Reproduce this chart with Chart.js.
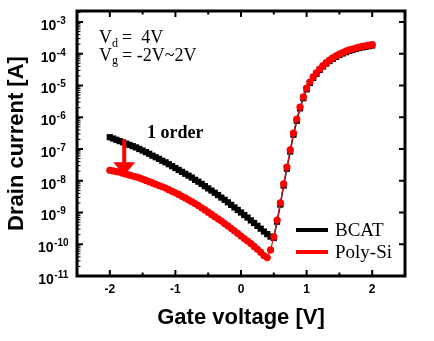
<!DOCTYPE html>
<html>
<head>
<meta charset="utf-8">
<script src="https://cdn.jsdelivr.net/npm/chart.js@4.4.1/dist/chart.umd.min.js"></script>
<style>
  html, body { margin: 0; padding: 0; background: #fff; }
  #wrap { width: 434px; height: 341px; }
</style>
</head>
<body>
<div id="wrap"><canvas id="idChart" width="434" height="341"></canvas></div>
<script>
// gate voltage sweep (V)
const gateVoltage = [
  -2, -1.95, -1.9, -1.85, -1.8, -1.75, -1.7, -1.65, -1.6, -1.55,
  -1.5, -1.45, -1.4, -1.35, -1.3, -1.25, -1.2, -1.15, -1.1, -1.05,
  -1, -0.95, -0.9, -0.85, -0.8, -0.75, -0.7, -0.65, -0.6, -0.55,
  -0.5, -0.45, -0.4, -0.35, -0.3, -0.25, -0.2, -0.15, -0.1, -0.05,
  0, 0.05, 0.1, 0.15, 0.2, 0.25, 0.3, 0.35, 0.4, 0.45,
  0.5, 0.55, 0.6, 0.65, 0.7, 0.75, 0.8, 0.85, 0.9, 0.95,
  1, 1.05, 1.1, 1.15, 1.2, 1.25, 1.3, 1.35, 1.4, 1.45,
  1.5, 1.55, 1.6, 1.65, 1.7, 1.75, 1.8, 1.85, 1.9, 1.95,
  2
];

// drain current, stored as log10(A)
const bcatLogId = [
  -6.63, -6.67, -6.71, -6.75, -6.79, -6.83, -6.87, -6.91, -6.95, -7.00,
  -7.05, -7.10, -7.15, -7.21, -7.26, -7.31, -7.37, -7.42, -7.48, -7.54,
  -7.60, -7.66, -7.72, -7.78, -7.84, -7.90, -7.97, -8.03, -8.10, -8.17,
  -8.24, -8.31, -8.38, -8.45, -8.53, -8.60, -8.68, -8.76, -8.84, -8.92,
  -9.00, -9.08, -9.16, -9.25, -9.33, -9.42, -9.51, -9.60, -9.68, -9.76,
  -9.80, -9.29, -8.75, -8.15, -7.62, -7.08, -6.55, -6.11, -5.72, -5.40,
  -5.12, -4.92, -4.76, -4.63, -4.51, -4.40, -4.31, -4.23, -4.16, -4.10,
  -4.04, -3.99, -3.95, -3.91, -3.88, -3.85, -3.82, -3.80, -3.78, -3.76,
  -3.74
];

const polySiLogId = [
  -7.67, -7.69, -7.71, -7.73, -7.76, -7.79, -7.82, -7.85, -7.88, -7.91,
  -7.95, -7.99, -8.03, -8.07, -8.11, -8.15, -8.19, -8.23, -8.28, -8.33,
  -8.38, -8.43, -8.49, -8.54, -8.60, -8.66, -8.72, -8.78, -8.85, -8.92,
  -8.99, -9.06, -9.13, -9.20, -9.27, -9.35, -9.42, -9.50, -9.58, -9.66,
  -9.74, -9.82, -9.90, -9.98, -10.07, -10.16, -10.25, -10.36, -10.42, -10.18,
  -9.77, -9.24, -8.70, -8.10, -7.57, -7.03, -6.50, -6.06, -5.68, -5.36,
  -5.08, -4.89, -4.73, -4.60, -4.48, -4.37, -4.28, -4.20, -4.13, -4.07,
  -4.01, -3.96, -3.92, -3.88, -3.85, -3.82, -3.79, -3.77, -3.75, -3.73,
  -3.71
];

const xTicks = [-2, -1, 0, 1, 2];
const xTickLabels = ['-2', '-1', '0', '1', '2'];
const xMinorTicks = [-1.5, -0.5, 0.5, 1.5];
const yTickExponents = [-11, -10, -9, -8, -7, -6, -5, -4, -3];

// "1 order" arrow, in data units
const arrowVg = -1.78;
const arrowFrom = 2.0e-7;
const arrowTo = 1.5e-8;

const SANS = '"Liberation Sans", Arial, sans-serif';
const SERIF = '"Liberation Serif", "Times New Roman", serif';

function toPoints(logs) {
  return gateVoltage.map((v, i) => ({ x: v, y: Math.pow(10, logs[i]) }));
}

// frame, inward ticks, decade labels, legend and notes
const decorations = {
  id: 'decorations',
  afterDatasetsDraw(chart) {
    const ctx = chart.ctx;
    const a = chart.chartArea;
    const xs = chart.scales.x;
    const ys = chart.scales.y;
    ctx.save();

    // ticks
    ctx.strokeStyle = '#000';
    ctx.lineWidth = 2;
    ctx.beginPath();
    xTicks.forEach(v => {
      const px = xs.getPixelForValue(v);
      ctx.moveTo(px, a.bottom); ctx.lineTo(px, a.bottom - 6);
      ctx.moveTo(px, a.top); ctx.lineTo(px, a.top + 6);
    });
    xMinorTicks.forEach(v => {
      const px = xs.getPixelForValue(v);
      ctx.moveTo(px, a.bottom); ctx.lineTo(px, a.bottom - 3.5);
      ctx.moveTo(px, a.top); ctx.lineTo(px, a.top + 3.5);
    });
    yTickExponents.forEach(e => {
      const py = ys.getPixelForValue(Math.pow(10, e));
      ctx.moveTo(a.left, py); ctx.lineTo(a.left + 6, py);
      ctx.moveTo(a.right, py); ctx.lineTo(a.right - 6, py);
    });
    ctx.stroke();

    ctx.lineWidth = 1;
    ctx.beginPath();
    yTickExponents.slice(0, -1).forEach(e => {
      for (let m = 2; m <= 9; m++) {
        const py = ys.getPixelForValue(m * Math.pow(10, e));
        ctx.moveTo(a.left, py); ctx.lineTo(a.left + 3.5, py);
      }
    });
    for (let m = 2; m * 1e-3 < ys.max; m++) {
      const py = ys.getPixelForValue(m * 1e-3);
      ctx.moveTo(a.left, py); ctx.lineTo(a.left + 3.5, py);
    }
    ctx.stroke();

    // frame
    ctx.lineWidth = 3;
    ctx.strokeRect(a.left, a.top, a.right - a.left, a.bottom - a.top);

    // decade labels 10^n
    ctx.fillStyle = '#000';
    ctx.textBaseline = 'alphabetic';
    ctx.textAlign = 'left';
    yTickExponents.forEach(e => {
      const py = ys.getPixelForValue(Math.pow(10, e));
      const sup = String(e);
      ctx.font = 'bold 14px ' + SANS;
      const wb = ctx.measureText('10').width;
      ctx.font = 'bold 10px ' + SANS;
      const ws = ctx.measureText(sup).width;
      const x0 = a.left - 24 - (wb + ws) / 2;
      ctx.font = 'bold 14px ' + SANS;
      ctx.fillText('10', x0, py + 8);
      ctx.font = 'bold 10px ' + SANS;
      ctx.fillText(sup, x0 + wb + 0.5, py + 2);
    });

    // legend
    chart.data.datasets.forEach((ds, i) => {
      const ly = a.bottom - 46 + i * 22;
      ctx.strokeStyle = ds.legendColor;
      ctx.lineWidth = 4;
      ctx.beginPath();
      ctx.moveTo(a.right - 109, ly);
      ctx.lineTo(a.right - 77, ly);
      ctx.stroke();
      ctx.fillStyle = '#000';
      ctx.font = '19px ' + SERIF;
      ctx.textBaseline = 'middle';
      ctx.fillText(ds.label, a.right - 70, ly + 1);
    });

    // bias conditions
    ctx.textBaseline = 'alphabetic';
    const tx = a.left + 22;
    ctx.font = '18px ' + SERIF;
    ctx.fillText('V', tx, a.top + 32);
    ctx.fillText('V', tx, a.top + 50);
    ctx.font = '12px ' + SERIF;
    ctx.fillText('d', tx + 13, a.top + 36);
    ctx.fillText('g', tx + 13, a.top + 53);
    ctx.font = '18px ' + SERIF;
    ctx.fillText('=  4V', tx + 23, a.top + 32);
    ctx.fillText('= -2V~2V', tx + 23, a.top + 50);

    // "1 order" note and arrow
    ctx.font = 'bold 18px ' + SERIF;
    ctx.fillText('1 order', a.left + 70, a.top + 127);

    const ax = xs.getPixelForValue(arrowVg);
    const y1 = ys.getPixelForValue(arrowFrom);
    const y2 = ys.getPixelForValue(arrowTo);
    ctx.fillStyle = '#ff0000';
    ctx.fillRect(ax - 2, y1, 4, (y2 - 12) - y1);
    ctx.beginPath();
    ctx.moveTo(ax - 11, y2 - 13);
    ctx.lineTo(ax + 11, y2 - 13);
    ctx.lineTo(ax, y2);
    ctx.closePath();
    ctx.fill();

    ctx.restore();
  }
};

new Chart(document.getElementById('idChart'), {
  type: 'line',
  data: {
    datasets: [
      {
        label: 'BCAT',
        data: toPoints(bcatLogId),
        legendColor: '#000000',
        borderColor: '#000000',
        borderWidth: 1.5,
        pointStyle: 'rect',
        pointRadius: 4.4,
        pointBorderWidth: 0,
        pointBackgroundColor: '#000000',
        tension: 0,
        order: 1
      },
      {
        label: 'Poly-Si',
        data: toPoints(polySiLogId),
        legendColor: '#ff0000',
        borderColor: '#d42020',
        borderWidth: 1.2,
        pointStyle: 'circle',
        pointRadius: 3.6,
        pointBorderWidth: 0,
        pointBackgroundColor: '#ff0000',
        tension: 0,
        order: 0
      }
    ]
  },
  options: {
    responsive: false,
    animation: false,
    layout: { padding: { top: 11, right: 29, left: 0, bottom: 0 } },
    plugins: {
      legend: { display: false },
      tooltip: { enabled: false }
    },
    scales: {
      x: {
        type: 'linear',
        min: -2.5,
        max: 2.5,
        grid: { display: false },
        border: { display: false },
        afterBuildTicks: s => { s.ticks = xTicks.map(v => ({ value: v })); },
        afterFit: s => { s.height = 65; },
        ticks: {
          color: '#000',
          padding: -2,
          maxRotation: 0,
          autoSkip: false,
          font: { family: SANS, size: 12, weight: 'bold' },
          callback: (v, i) => xTickLabels[i]
        },
        title: {
          display: true,
          text: 'Gate voltage [V]',
          color: '#000',
          font: { family: SANS, size: 22, weight: 'bold' },
          padding: { top: 0, bottom: 10 }
        }
      },
      y: {
        type: 'logarithmic',
        min: 1e-11,
        max: 2.22e-3,
        grid: { display: false },
        border: { display: false },
        afterBuildTicks: s => { s.ticks = yTickExponents.map(e => ({ value: Math.pow(10, e) })); },
        afterFit: s => { s.width = 77; },
        ticks: { display: false },
        title: {
          display: true,
          text: 'Drain current [A]',
          color: '#000',
          font: { family: SANS, size: 22, weight: 'bold' },
          padding: { top: 4, bottom: 0 }
        }
      }
    }
  },
  plugins: [decorations]
});
</script>
</body>
</html>
